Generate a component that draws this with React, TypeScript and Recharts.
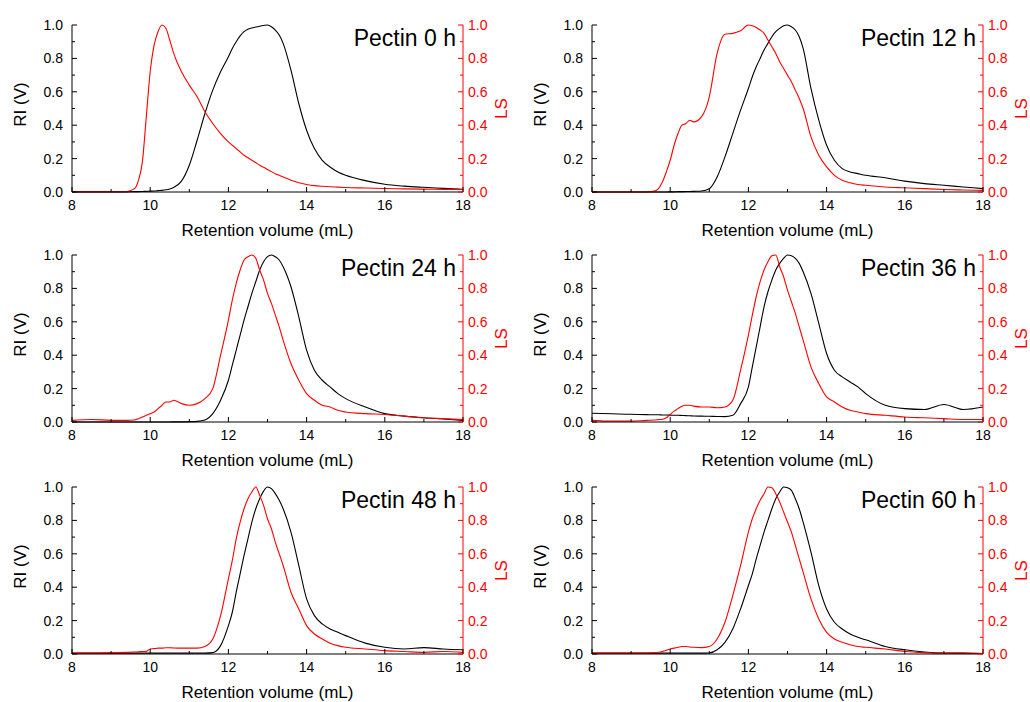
import React from 'react';
import { LineChart, Line, XAxis, YAxis } from 'recharts';

// retention volume grid (mL), shared by every trace
const volume = [
  8, 8.5, 9, 9.4, 9.6, 9.7, 9.8, 9.9, 10.0, 10.1,
  10.2, 10.3, 10.4, 10.5, 10.6, 10.8, 11.0, 11.2, 11.4, 11.6,
  11.8, 12.0, 12.1, 12.2, 12.3, 12.4, 12.5, 12.6, 12.7, 12.8,
  12.9, 13.0, 13.1, 13.2, 13.3, 13.4, 13.6, 13.8, 14.0, 14.2,
  14.4, 14.6, 14.8, 15.0, 15.5, 16.0, 16.5, 17.0, 17.5, 18.0,
];

// normalised RI / LS signals
const ri0h = [
  0, 0, 0, 0.001, 0.002, 0.002, 0.003, 0.004, 0.005, 0.006,
  0.008, 0.01, 0.013, 0.018, 0.027, 0.065, 0.16, 0.31, 0.47, 0.61,
  0.72, 0.81, 0.86, 0.9, 0.935, 0.96, 0.975, 0.982, 0.988, 0.993,
  0.997, 1.0, 0.99, 0.97, 0.94, 0.89, 0.73, 0.53, 0.37, 0.26,
  0.19, 0.15, 0.12, 0.1, 0.068, 0.046, 0.035, 0.028, 0.022, 0.016,
];
const ls0h = [
  0.002, 0.002, 0.002, 0.003, 0.02, 0.07, 0.18, 0.45, 0.72, 0.88,
  0.96, 1.0, 0.98, 0.91, 0.83, 0.72, 0.64, 0.57, 0.48, 0.41,
  0.35, 0.3, 0.28, 0.26, 0.24, 0.22, 0.205, 0.19, 0.175, 0.16,
  0.148, 0.135, 0.122, 0.11, 0.1, 0.09, 0.07, 0.055, 0.045, 0.038,
  0.034, 0.031, 0.029, 0.027, 0.024, 0.021, 0.019, 0.017, 0.016, 0.015,
];
const ri12h = [
  0, 0, 0, 0, 0, 0, 0, 0, 0.001, 0.001,
  0.002, 0.002, 0.003, 0.003, 0.004, 0.006, 0.02, 0.09, 0.21, 0.35,
  0.49, 0.62, 0.69, 0.75, 0.8, 0.85, 0.89, 0.93, 0.96, 0.98,
  0.995, 1.0, 0.99, 0.97, 0.93, 0.86, 0.62, 0.43, 0.28, 0.19,
  0.14, 0.12, 0.11, 0.1, 0.085, 0.065, 0.05, 0.04, 0.03, 0.02,
];
const ls12h = [
  0, 0, 0, 0.001, 0.005, 0.02, 0.06, 0.12, 0.19, 0.28,
  0.35, 0.4, 0.41, 0.43, 0.42, 0.45, 0.57, 0.83, 0.945, 0.95,
  0.965, 1.0, 0.995, 0.985, 0.97, 0.95, 0.91, 0.87, 0.83, 0.78,
  0.74, 0.7, 0.66, 0.61, 0.56, 0.5, 0.33, 0.22, 0.15, 0.1,
  0.07, 0.055, 0.045, 0.04, 0.03, 0.025, 0.02, 0.015, 0.012, 0.01,
];
const ri24h = [
  0, 0, 0, 0, 0, 0, 0, 0, 0, 0,
  0, 0, 0, 0, 0.001, 0.001, 0.002, 0.004, 0.012, 0.05,
  0.13, 0.25, 0.34, 0.43, 0.52, 0.61, 0.69, 0.77, 0.84, 0.91,
  0.96, 0.99, 1.0, 0.99, 0.97, 0.93, 0.81, 0.63, 0.43, 0.31,
  0.25, 0.21, 0.17, 0.14, 0.09, 0.05, 0.035, 0.025, 0.018, 0.01,
];
const ls24h = [
  0.01, 0.015, 0.01, 0.01, 0.012, 0.02, 0.03, 0.04, 0.05, 0.06,
  0.08, 0.1, 0.12, 0.12, 0.13, 0.11, 0.1, 0.11, 0.14, 0.2,
  0.4, 0.61, 0.73, 0.83, 0.91, 0.97, 0.99, 1.0, 0.98, 0.91,
  0.85, 0.77, 0.71, 0.64, 0.57, 0.49, 0.35, 0.25, 0.17, 0.13,
  0.1, 0.09, 0.07, 0.06, 0.05, 0.045, 0.035, 0.025, 0.02, 0.015,
];
const ri36h = [
  0.052, 0.049, 0.046, 0.044, 0.043, 0.043, 0.042, 0.042, 0.041, 0.04,
  0.04, 0.039, 0.038, 0.037, 0.036, 0.035, 0.034, 0.033, 0.032, 0.04,
  0.11, 0.21, 0.33, 0.45, 0.57, 0.69, 0.78, 0.85, 0.91, 0.95,
  0.98, 1.0, 0.995, 0.98, 0.95, 0.9, 0.77, 0.59, 0.41, 0.31,
  0.27, 0.24, 0.21, 0.17, 0.1, 0.08, 0.075, 0.105, 0.075, 0.09,
];
const ls36h = [
  0.01, 0.005, 0.005, 0.01, 0.012, 0.014, 0.016, 0.025, 0.045, 0.065,
  0.08, 0.095, 0.1, 0.1, 0.095, 0.09, 0.09, 0.085, 0.09, 0.13,
  0.31, 0.52, 0.64, 0.75, 0.84, 0.91, 0.96, 0.995, 1.0, 0.93,
  0.87, 0.79, 0.72, 0.65, 0.57, 0.49, 0.33, 0.23, 0.15, 0.12,
  0.09, 0.07, 0.06, 0.05, 0.04, 0.03, 0.025, 0.02, 0.015, 0.015,
];
const ri48h = [
  0.005, 0.005, 0.005, 0.005, 0.005, 0.005, 0.005, 0.005, 0.005, 0.005,
  0.005, 0.005, 0.005, 0.005, 0.005, 0.005, 0.005, 0.005, 0.005, 0.008,
  0.05, 0.17, 0.25, 0.37, 0.48, 0.59, 0.69, 0.79, 0.87, 0.93,
  0.975, 1.0, 0.99, 0.96, 0.92, 0.87, 0.73, 0.53, 0.33, 0.23,
  0.18, 0.15, 0.13, 0.11, 0.065, 0.04, 0.03, 0.038, 0.03, 0.025,
];
const ls48h = [
  0.005, 0.005, 0.008, 0.01, 0.012, 0.013, 0.015, 0.016, 0.03, 0.032,
  0.035, 0.035, 0.037, 0.037, 0.036, 0.035, 0.035, 0.035, 0.045, 0.09,
  0.23, 0.45, 0.56, 0.69, 0.79, 0.87, 0.93, 0.97, 1.0, 0.95,
  0.89, 0.81, 0.75, 0.67, 0.6, 0.53, 0.37, 0.27, 0.17, 0.12,
  0.09, 0.065, 0.05, 0.04, 0.03, 0.02, 0.015, 0.01, 0.015, 0.01,
];
const ri60h = [
  0.005, 0.005, 0.005, 0.005, 0.005, 0.005, 0.005, 0.005, 0.005, 0.005,
  0.005, 0.005, 0.005, 0.005, 0.005, 0.005, 0.006, 0.025, 0.07, 0.15,
  0.27, 0.41, 0.48, 0.57, 0.65, 0.73, 0.8, 0.87, 0.93, 0.97,
  1.0, 0.995, 0.98, 0.93, 0.87, 0.79, 0.61, 0.41, 0.27, 0.19,
  0.15, 0.12, 0.1, 0.085, 0.045, 0.025, 0.012, 0.006, 0.005, 0.003,
];
const ls60h = [
  0.005, 0.005, 0.005, 0.006, 0.008, 0.01, 0.015, 0.022, 0.03, 0.035,
  0.04, 0.045, 0.045, 0.042, 0.04, 0.038, 0.045, 0.09, 0.19, 0.35,
  0.53, 0.73, 0.81, 0.87, 0.92, 0.96, 1.0, 0.995, 0.96, 0.91,
  0.85, 0.79, 0.73, 0.65, 0.57, 0.49, 0.33, 0.21, 0.13, 0.09,
  0.07, 0.055, 0.045, 0.04, 0.03, 0.015, 0.008, 0.005, 0.005, 0.003,
];

const titles = ['Pectin 0 h', 'Pectin 12 h', 'Pectin 24 h', 'Pectin 36 h', 'Pectin 48 h', 'Pectin 60 h'];
const riSeries = [ri0h, ri12h, ri24h, ri36h, ri48h, ri60h];
const lsSeries = [ls0h, ls12h, ls24h, ls36h, ls48h, ls60h];

const xTicks = [8, 9, 10, 11, 12, 13, 14, 15, 16, 17, 18];
const yTicks = [0, 0.1, 0.2, 0.3, 0.4, 0.5, 0.6, 0.7, 0.8, 0.9, 1.0];

const FONT = '"Liberation Sans", Arial, Helvetica, sans-serif';
const RED = '#ff0000';

// layout of one panel (px)
const W = 520;
const H = 245;
const PLOT_TOP = 25;
const LEFT_W = 72;
const RIGHT_W = 57;
const BOTTOM_H = 53;
const rowTops = [0, 230, 462];

const isMajorX = (v: number) => Math.round(v) % 2 === 0;
const isMajorY = (v: number) => Math.round(v * 10) % 2 === 0;

// ticks point inwards, minor ones are shorter
function XTick({ x, y, payload }: any) {
  const major = isMajorX(payload.value);
  return (
    <g>
      <line x1={x} y1={y} x2={x} y2={y - (major ? 5 : 3)} stroke="#000" strokeWidth={1} />
      {major && (
        <text x={x} y={y + 18} textAnchor="middle" fontSize={14} fontFamily={FONT} fill="#000">
          {payload.value}
        </text>
      )}
    </g>
  );
}

function LeftTick({ x, y, payload }: any) {
  const major = isMajorY(payload.value);
  return (
    <g>
      <line x1={x} y1={y} x2={x + (major ? 5 : 3)} y2={y} stroke="#000" strokeWidth={1} />
      {major && (
        <text x={x - 9} y={y + 5} textAnchor="end" fontSize={14} fontFamily={FONT} fill="#000">
          {payload.value.toFixed(1)}
        </text>
      )}
    </g>
  );
}

function RightTick({ x, y, payload }: any) {
  const major = isMajorY(payload.value);
  return (
    <g>
      <line x1={x} y1={y} x2={x - (major ? 5 : 3)} y2={y} stroke={RED} strokeWidth={1} />
      {major && (
        <text x={x + 5} y={y + 5} textAnchor="start" fontSize={14} fontFamily={FONT} fill={RED}>
          {payload.value.toFixed(1)}
        </text>
      )}
    </g>
  );
}

const plotH = H - PLOT_TOP - BOTTOM_H;
const plotRight = W - RIGHT_W;

function Panel({ index }: { index: number }) {
  const ri = riSeries[index];
  const ls = lsSeries[index];
  const data = volume.map((v, i) => ({ v, ri: ri[i], ls: ls[i] }));
  const col = index % 2;
  const row = Math.floor(index / 2);
  return (
    <div style={{ position: 'absolute', left: col * W, top: rowTops[row], width: W, height: H }}>
      <LineChart width={W} height={H} data={data} margin={{ top: PLOT_TOP, right: 0, bottom: 0, left: 0 }}>
        <XAxis
          type="number"
          dataKey="v"
          domain={[8, 18]}
          ticks={xTicks}
          interval={0}
          height={BOTTOM_H}
          tickSize={0}
          tickMargin={0}
          tickLine={false}
          tick={<XTick />}
          axisLine={{ stroke: '#000', strokeWidth: 1 }}
        />
        <YAxis
          yAxisId="left"
          orientation="left"
          domain={[0, 1]}
          ticks={yTicks}
          interval={0}
          width={LEFT_W}
          tickSize={0}
          tickMargin={0}
          tickLine={false}
          tick={<LeftTick />}
          axisLine={{ stroke: '#000', strokeWidth: 1 }}
        />
        <YAxis
          yAxisId="right"
          orientation="right"
          domain={[0, 1]}
          ticks={yTicks}
          interval={0}
          width={RIGHT_W}
          tickSize={0}
          tickMargin={0}
          tickLine={false}
          tick={<RightTick />}
          axisLine={{ stroke: RED, strokeWidth: 1 }}
        />
        <Line
          yAxisId="left"
          type="monotone"
          dataKey="ri"
          stroke="#000"
          strokeWidth={1.1}
          dot={false}
          activeDot={false}
          isAnimationActive={false}
        />
        <Line
          yAxisId="right"
          type="monotone"
          dataKey="ls"
          stroke={RED}
          strokeWidth={1.1}
          dot={false}
          activeDot={false}
          isAnimationActive={false}
        />
        <text
          x={plotRight - 7}
          y={PLOT_TOP + 21}
          textAnchor="end"
          fontSize={23}
          fontFamily={FONT}
          fill="#000"
        >
          {titles[index]}
        </text>
        <text
          x={(LEFT_W + plotRight) / 2}
          y={PLOT_TOP + plotH + 44}
          textAnchor="middle"
          fontSize={17}
          fontFamily={FONT}
          fill="#000"
        >
          Retention volume (mL)
        </text>
        <text
          x={0}
          y={0}
          transform={`translate(26, ${PLOT_TOP + plotH / 2 - 4}) rotate(-90)`}
          textAnchor="middle"
          fontSize={17}
          fontFamily={FONT}
          fill="#000"
        >
          RI (V)
        </text>
        <text
          x={0}
          y={0}
          transform={`translate(${plotRight + 44}, ${PLOT_TOP + plotH / 2}) rotate(-90)`}
          textAnchor="middle"
          fontSize={17}
          fontFamily={FONT}
          fill={RED}
        >
          LS
        </text>
      </LineChart>
    </div>
  );
}

export default function App() {
  return (
    <div
      style={{
        position: 'absolute',
        left: 0,
        top: 0,
        width: 1030,
        height: 702,
        overflow: 'hidden',
        background: '#fff',
      }}
    >
      {titles.map((t, i) => (
        <Panel key={t} index={i} />
      ))}
    </div>
  );
}
